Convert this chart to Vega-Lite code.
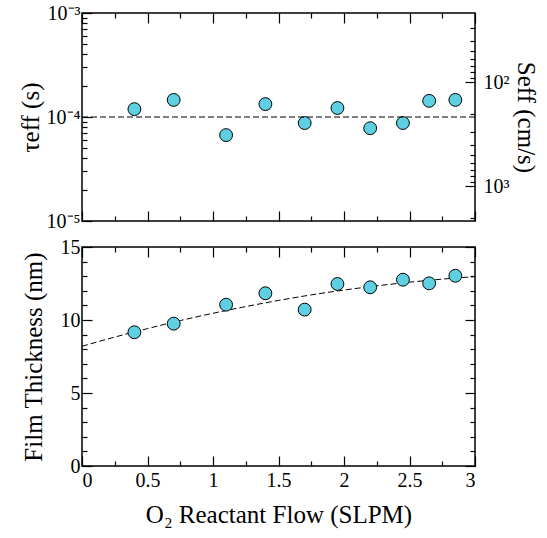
{
  "$schema": "https://vega.github.io/schema/vega-lite/v6.json",
  "padding": {"left": 17, "top": 2, "right": 2, "bottom": 5},
  "config": {
    "font": "Liberation Serif, Times New Roman, serif",
    "view": {"stroke": "black", "strokeWidth": 1.5},
    "axis": {
      "labelFont": "Liberation Serif, Times New Roman, serif", "titleFont": "Liberation Serif, Times New Roman, serif",
      "labelFontSize": 20, "titleFontSize": 25, "titleFontWeight": "normal",
      "labelColor": "black", "titleColor": "black", "tickColor": "black",
      "grid": false, "domain": false, "tickWidth": 1.2
    }
  },
  "datasets": {
    "tau": [
      {"flow": 0.40, "tau": 1.19e-4}, {"flow": 0.70, "tau": 1.46e-4}, {"flow": 1.10, "tau": 6.7e-5},
      {"flow": 1.40, "tau": 1.33e-4}, {"flow": 1.70, "tau": 8.75e-5}, {"flow": 1.95, "tau": 1.22e-4},
      {"flow": 2.20, "tau": 7.8e-5}, {"flow": 2.45, "tau": 8.75e-5}, {"flow": 2.65, "tau": 1.43e-4},
      {"flow": 2.85, "tau": 1.46e-4}
    ],
    "thick": [
      {"flow": 0.40, "thickness": 9.16}, {"flow": 0.70, "thickness": 9.75}, {"flow": 1.10, "thickness": 11.05},
      {"flow": 1.40, "thickness": 11.83}, {"flow": 1.70, "thickness": 10.71}, {"flow": 1.95, "thickness": 12.47},
      {"flow": 2.20, "thickness": 12.24}, {"flow": 2.45, "thickness": 12.76}, {"flow": 2.65, "thickness": 12.51},
      {"flow": 2.85, "thickness": 13.03}
    ],
    "fit": [
      {"flow": 0, "fit": 8.20}, {"flow": 0.25, "fit": 8.83}, {"flow": 0.5, "fit": 9.41}, {"flow": 0.75, "fit": 9.96},
      {"flow": 1.0, "fit": 10.46}, {"flow": 1.25, "fit": 10.92}, {"flow": 1.5, "fit": 11.34}, {"flow": 1.75, "fit": 11.72},
      {"flow": 2.0, "fit": 12.05}, {"flow": 2.25, "fit": 12.34}, {"flow": 2.5, "fit": 12.59}, {"flow": 2.75, "fit": 12.80},
      {"flow": 3.0, "fit": 12.97}
    ],
    "one": [{}]
  },
  "spacing": 26,
  "bounds": "flush",
  "vconcat": [
    {
      "width": 393, "height": 208,
      "layer": [
        {
          "data": {"name": "tau"},
          "mark": {"type": "point", "filled": true, "size": 165, "fill": "#5fcfe4", "stroke": "black", "strokeWidth": 1, "opacity": 1},
          "encoding": {
            "x": {"field": "flow", "type": "quantitative", "scale": {"domain": [0, 3], "nice": false},
              "axis": {"orient": "bottom", "values": [0,0.25,0.5,0.75,1,1.25,1.5,1.75,2,2.25,2.5,2.75,3], "labels": false, "title": null,
                "tickSize": {"condition": {"test": "datum.value % 0.5 == 0", "value": -10}, "value": -5}}},
            "y": {"field": "tau", "type": "quantitative", "scale": {"type": "log", "domain": [1e-5, 1e-3], "nice": false},
              "axis": {"values": [1e-5,2e-5,3e-5,4e-5,5e-5,6e-5,7e-5,8e-5,9e-5,1e-4,2e-4,3e-4,4e-4,5e-4,6e-4,7e-4,8e-4,9e-4,1e-3],
                "labelExpr": "datum.value == 0.001 ? '10⁻³' : datum.value == 0.0001 ? '10⁻⁴' : datum.value == 0.00001 ? '10⁻⁵' : ''",
                "tickSize": {"condition": {"test": "datum.value == 0.001 || datum.value == 0.0001 || datum.value == 0.00001", "value": -10}, "value": -5},
                "labelPadding": 12, "title": "τeff (s)", "titlePadding": 3}}
          }
        },
        {
          "data": {"name": "one"},
          "mark": {"type": "rule", "strokeDash": [6, 3], "strokeWidth": 1, "color": "black"},
          "encoding": {"y": {"datum": 1e-4, "type": "quantitative", "scale": {"type": "log", "domain": [1e-5, 1e-3], "nice": false}, "axis": null}}
        },
        {
          "data": {"name": "one"},
          "mark": {"type": "point", "opacity": 0},
          "encoding": {
            "x": {"datum": 1.5, "type": "quantitative", "scale": {"domain": [0, 3], "nice": false},
              "axis": {"orient": "top", "values": [0,0.25,0.5,0.75,1,1.25,1.5,1.75,2,2.25,2.5,2.75,3], "labels": false, "title": null,
                "tickSize": {"condition": {"test": "datum.value % 0.5 == 0", "value": -10}, "value": -5}}},
            "y": {"datum": 100, "type": "quantitative", "scale": {"type": "log", "domain": [21.5, 2150], "nice": false, "reverse": true},
              "axis": {"orient": "right", "values": [30,40,50,60,70,80,90,100,200,300,400,500,600,700,800,900,1000,2000],
                "labelExpr": "datum.value == 100 ? '10²' : datum.value == 1000 ? '10³' : ''",
                "tickSize": {"condition": {"test": "datum.value == 100 || datum.value == 1000", "value": -10}, "value": -5},
                "labelPadding": 18, "title": "Seff (cm/s)", "titlePadding": 4}}
          }
        }
      ],
      "resolve": {"scale": {"x": "independent", "y": "independent"}, "axis": {"x": "independent", "y": "independent"}}
    },
    {
      "width": 393, "height": 219,
      "layer": [
        {
          "data": {"name": "fit"},
          "mark": {"type": "line", "strokeDash": [6, 3], "strokeWidth": 1, "color": "black", "interpolate": "monotone"},
          "encoding": {
            "x": {"field": "flow", "type": "quantitative", "scale": {"domain": [0, 3], "nice": false}, "axis": null},
            "y": {"field": "fit", "type": "quantitative", "scale": {"domain": [0, 15], "nice": false}, "axis": null}
          }
        },
        {
          "data": {"name": "thick"},
          "mark": {"type": "point", "filled": true, "size": 165, "fill": "#5fcfe4", "stroke": "black", "strokeWidth": 1, "opacity": 1},
          "encoding": {
            "x": {"field": "flow", "type": "quantitative", "scale": {"domain": [0, 3], "nice": false},
              "axis": {"orient": "bottom", "values": [0,0.25,0.5,0.75,1,1.25,1.5,1.75,2,2.25,2.5,2.75,3],
                "labelExpr": "datum.value % 0.5 == 0 ? format(datum.value, '~g') : ''",
                "tickSize": {"condition": {"test": "datum.value % 0.5 == 0", "value": -10}, "value": -5},
                "labelPadding": 14, "title": "O₂ Reactant Flow (SLPM)", "titlePadding": 12}},
            "y": {"field": "thickness", "type": "quantitative", "scale": {"domain": [0, 15], "nice": false},
              "axis": {"values": [0,1,2,3,4,5,6,7,8,9,10,11,12,13,14,15],
                "labelExpr": "datum.value % 5 == 0 ? datum.label : ''",
                "tickSize": {"condition": {"test": "datum.value % 5 == 0", "value": -10}, "value": -5},
                "labelPadding": 12, "title": "Film Thickness (nm)", "titlePadding": 14}}
          }
        },
        {
          "data": {"name": "one"},
          "mark": {"type": "point", "opacity": 0},
          "encoding": {
            "x": {"datum": 1.5, "type": "quantitative", "scale": {"domain": [0, 3], "nice": false},
              "axis": {"orient": "top", "values": [0,0.25,0.5,0.75,1,1.25,1.5,1.75,2,2.25,2.5,2.75,3], "labels": false, "title": null,
                "tickSize": {"condition": {"test": "datum.value % 0.5 == 0", "value": -10}, "value": -5}}},
            "y": {"datum": 5, "type": "quantitative", "scale": {"domain": [0, 15], "nice": false},
              "axis": {"orient": "right", "values": [0,1,2,3,4,5,6,7,8,9,10,11,12,13,14,15], "labels": false, "title": null,
                "tickSize": {"condition": {"test": "datum.value % 5 == 0", "value": -10}, "value": -5}}}
          }
        }
      ],
      "resolve": {"scale": {"x": "independent", "y": "independent"}, "axis": {"x": "independent", "y": "independent"}}
    }
  ]
}
